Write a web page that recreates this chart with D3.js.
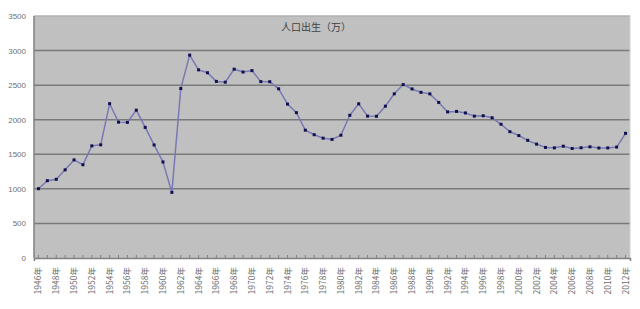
<!DOCTYPE html>
<html><head><meta charset="utf-8">
<script src="https://cdn.jsdelivr.net/npm/d3@7"></script>
<style>body{margin:0;background:#fff}svg{display:block}</style>
</head><body>
<svg id="c" width="640" height="309"></svg>
<script>
const years = d3.range(1946, 2013).map(String);
const births = [1002,1118,1138,1275,1419,1349,1622,1637,2232,1965,1961,2138,1889,1635,1389,949,
2451,2934,2721,2679,2554,2543,2731,2690,2710,2551,2550,2447,2226,2102,1849,1783,1733,1715,1776,
2064,2230,2052,2050,2196,2374,2508,2445,2396,2374,2250,2113,2120,2098,2052,2057,2028,1934,1827,
1771,1702,1647,1599,1593,1617,1584,1594,1608,1591,1592,1604,1803];
const yTicks = [0,500,1000,1500,2000,2500,3000,3500];
const title = "人口出生（万）";

const svg = d3.select("#c");
const L=34, R=630, T=16, B=258;
const x = d3.scaleBand().domain(years).range([L,R]);
const y = d3.scaleLinear().domain([0,3500]).range([B,T]);

svg.append("rect").attr("x",L).attr("y",T).attr("width",R-L).attr("height",B-T).attr("fill","#c0c0c0");

svg.append("g").selectAll("line").data(yTicks.filter(d=>d>0)).join("line")
  .attr("x1",L).attr("x2",R).attr("y1",d=>y(d)).attr("y2",d=>y(d))
  .attr("stroke",d=>d===3500?"#b0b0b0":"#7a7a7a").attr("stroke-width",1.5);

svg.append("line").attr("x1",L).attr("x2",L).attr("y1",T).attr("y2",B).attr("stroke","#808080").attr("stroke-width",1.5);
svg.append("line").attr("x1",R).attr("x2",R).attr("y1",T).attr("y2",B).attr("stroke","#d0d0d0").attr("stroke-width",1);

// y axis
const ya = svg.append("g").attr("transform",`translate(${L},0)`)
  .call(d3.axisLeft(y).tickValues(yTicks).tickFormat(d3.format("d")).tickSize(0).tickPadding(8));
ya.select(".domain").remove();
ya.selectAll("text").attr("fill","#707070").style("font-family","Liberation Sans, Arial").style("font-size","8px");

// x axis
const xa = svg.append("g").attr("transform",`translate(0,${B})`)
  .call(d3.axisBottom(x).tickSize(3).tickFormat(d=>(+d-1946)%2===0? d+"年":""));
xa.select(".domain").attr("stroke","#808080").attr("stroke-width",1.5);
xa.selectAll(".tick line").attr("stroke","#808080").attr("y1",-3).attr("y2",0);
xa.selectAll("text").attr("fill","#707070")
  .style("font-family","Noto Sans CJK SC").style("font-size","8.5px")
  .attr("transform","rotate(-90)").attr("text-anchor","end")
  .attr("x",-9).attr("y",0).attr("dy","0.35em");

svg.append("text").attr("x",316).attr("y",31).attr("text-anchor","middle")
  .attr("fill","#404040").style("font-family","Noto Sans CJK SC").style("font-size","10px").text(title);

const cx = d => x(d)+x.bandwidth()/2;
const line = d3.line().x((d,i)=>cx(years[i])).y(d=>y(d));
svg.append("path").datum(births).attr("d",line).attr("fill","none").attr("stroke","#7878b4").attr("stroke-width",1.5);
svg.append("g").selectAll("rect").data(births).join("rect")
  .attr("x",(d,i)=>cx(years[i])-1.5).attr("y",d=>y(d)-1.5).attr("width",3).attr("height",3)
  .attr("fill","#101050");
</script>
</body></html>
